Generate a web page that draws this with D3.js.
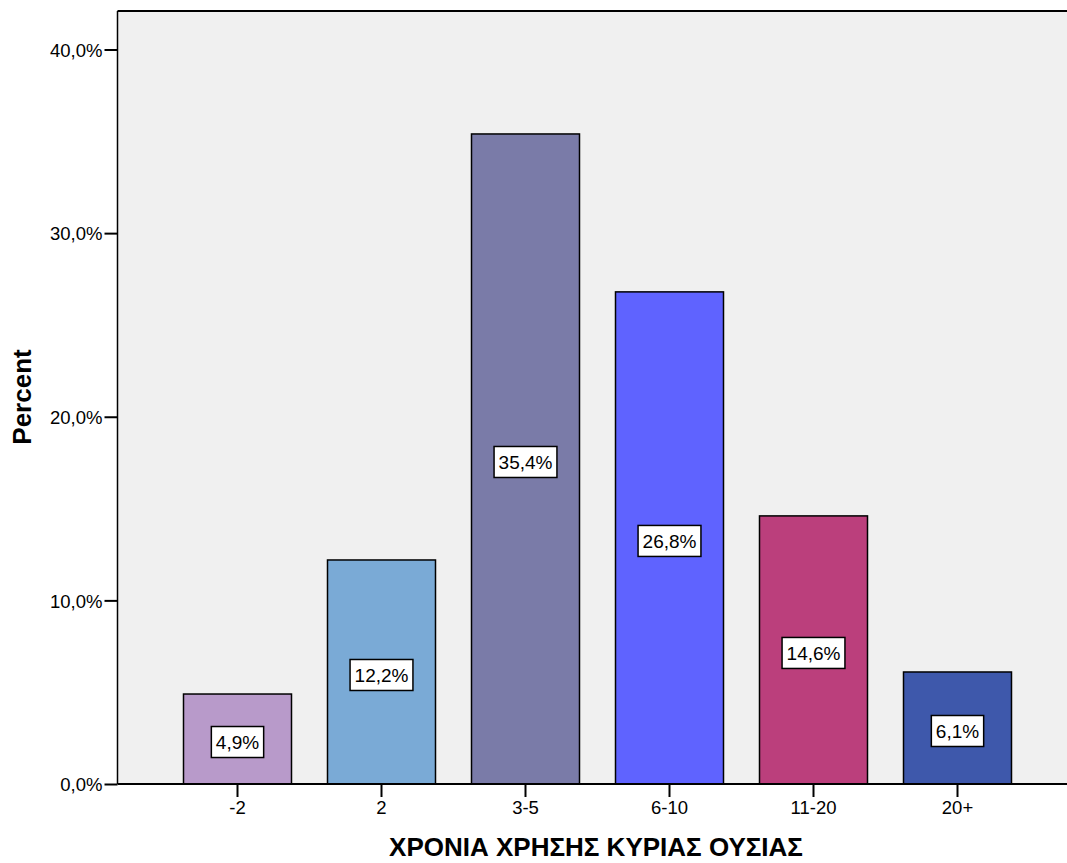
<!DOCTYPE html>
<html><head><meta charset="utf-8">
<script src="https://cdn.jsdelivr.net/npm/d3@7"></script>
<style>body{margin:0;background:#fff}svg{display:block}text{font-family:"Liberation Sans",Arial,sans-serif}</style>
</head><body>
<script>
const categories = ["-2", "2", "3-5", "6-10", "11-20", "20+"];
const percents = [4.9, 12.2, 35.4, 26.8, 14.6, 6.1];
const barColors = ["#b89aca", "#7aaad6", "#7a7ba8", "#5f63ff", "#bb3f7c", "#3e58ab"];
const yTicks = [0, 10, 20, 30, 40];
const xTitle = "ΧΡΟΝΙΑ ΧΡΗΣΗΣ ΚΥΡΙΑΣ ΟΥΣΙΑΣ";
const yTitle = "Percent";

(function () {
const W = 1067, H = 863;
const svg = d3.select("body").append("svg").attr("width", W).attr("height", H);
const pLeft = 117.5, pTop = 11, pBottom = 784, pRight = 1070;

const x = d3.scaleBand().domain(categories).range([165.5, 1029.5]).paddingInner(0.25).paddingOuter(0.125);
const y = d3.scaleLinear().domain([0, 40]).range([pBottom, 49.5]);
const fmt = v => v.toFixed(1).replace(".", ",") + "%";

svg.append("rect").attr("x", pLeft).attr("y", pTop).attr("width", pRight - pLeft).attr("height", pBottom - pTop)
  .attr("fill", "#f0f0f0");

svg.append("g").selectAll("rect").data(categories).join("rect")
  .attr("x", d => x(d)).attr("width", x.bandwidth())
  .attr("y", (d, i) => y(percents[i])).attr("height", (d, i) => y(0) - y(percents[i]))
  .attr("fill", (d, i) => barColors[i]).attr("stroke", "#000").attr("stroke-width", 1.5);

svg.append("line").attr("x1", pLeft).attr("x2", pRight).attr("y1", pTop).attr("y2", pTop).attr("stroke", "#000").attr("stroke-width", 2);

const yAxis = svg.append("g").attr("transform", `translate(${pLeft},0)`)
  .call(d3.axisLeft(y).tickValues(yTicks).tickFormat(fmt).tickSize(13).tickPadding(2));
yAxis.select(".domain").attr("d", `M0,${pTop}V${pBottom}`).attr("stroke-width", 1.5);
yAxis.selectAll(".tick line").attr("stroke-width", 2);
yAxis.selectAll("text").attr("font-size", 18.5).attr("fill", "#000").attr("dy", "0.36em");

const xAxis = svg.append("g").attr("transform", `translate(0,${pBottom})`)
  .call(d3.axisBottom(x).tickSize(13).tickPadding(4));
xAxis.select(".domain").attr("d", `M${pLeft},0H${pRight}`).attr("stroke-width", 2);
xAxis.selectAll(".tick line").attr("stroke-width", 2);
xAxis.selectAll("text").attr("font-size", 18.5).attr("fill", "#000");

const lab = svg.append("g").selectAll("g").data(categories).join("g")
  .attr("transform", (d, i) => `translate(${x(d) + x.bandwidth() / 2},${(y(0) + y(percents[i])) / 2 + 3})`);
lab.each(function (d, i) {
  const g = d3.select(this);
  const t = g.append("text").text(fmt(percents[i])).attr("text-anchor", "middle")
    .attr("dy", "0.36em").attr("font-size", 19).attr("fill", "#000");
  const w = t.node().getComputedTextLength();
  g.insert("rect", "text").attr("x", -w / 2 - 4.5).attr("y", -15.5).attr("width", w + 9).attr("height", 31)
    .attr("fill", "#fff").attr("stroke", "#000").attr("stroke-width", 1.5);
});

svg.append("text").text(xTitle).attr("x", 596).attr("y", 856).attr("text-anchor", "middle")
  .attr("font-size", 26).attr("font-weight", "bold").attr("fill", "#000");
svg.append("text").text(yTitle).attr("transform", "translate(31,397) rotate(-90)").attr("text-anchor", "middle")
  .attr("font-size", 26).attr("font-weight", "bold").attr("fill", "#000");
})();
</script>
</body></html>
